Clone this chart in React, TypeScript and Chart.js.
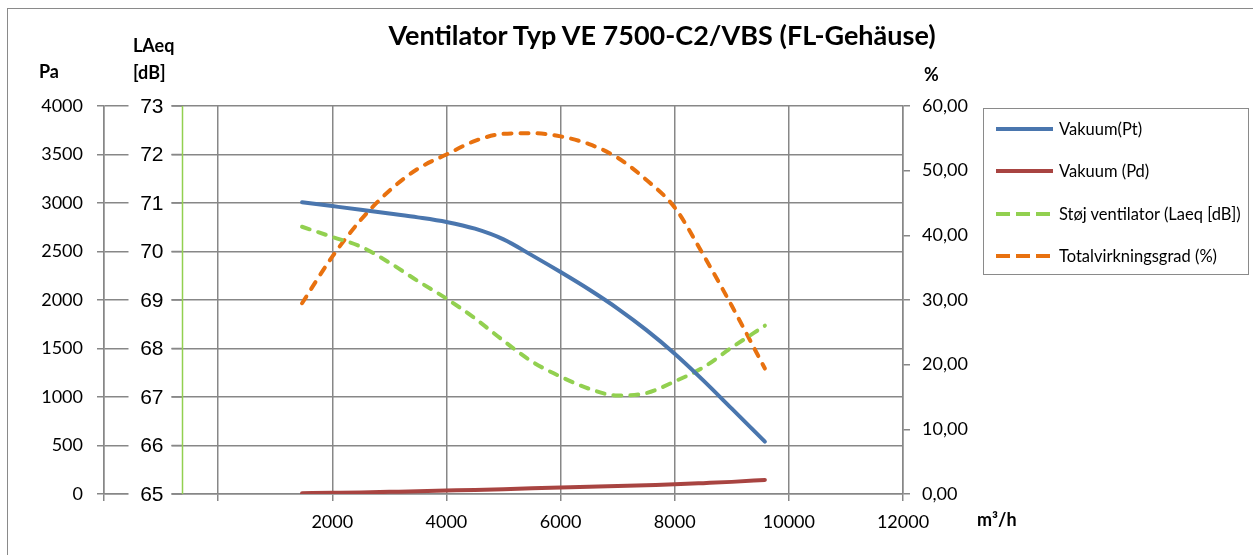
import React, { useEffect, useRef } from "react";
import { Chart, registerables } from "chart.js";

Chart.register(...registerables);

// ---------- data ----------
const flows = [1470, 2000, 2500, 3000, 3500, 4000, 4500, 5000, 5500, 6000, 6500, 7000, 7500, 8000, 8500, 9000, 9580];
const vakuumPt = [3008, 2968, 2930, 2891, 2852, 2805, 2735, 2625, 2460, 2288, 2108, 1912, 1692, 1447, 1172, 880, 540];
const vakuumPd = [8, 12, 16, 22, 28, 35, 42, 50, 58, 66, 74, 82, 91, 100, 112, 125, 145];
const stojLaeq = [70.51, 70.3, 70.1, 69.77, 69.39, 69.03, 68.62, 68.16, 67.73, 67.42, 67.17, 67.03, 67.08, 67.32, 67.61, 68.02, 68.47];
const virkningsgrad = [29.5, 36.7, 42.4, 46.9, 50.3, 52.5, 54.6, 55.7, 55.8, 55.3, 54.1, 52.0, 48.6, 44.3, 37.0, 29.1, 19.4];

const seriesLabels = [
  "Vakuum(Pt)",
  "Vakuum (Pd)",
  "Støj ventilator (Laeq [dB])",
  "Totalvirkningsgrad (%)",
];
const laeqTicks = [65, 66, 67, 68, 69, 70, 71, 72, 73];

const TITLE = "Ventilator Typ VE 7500-C2/VBS (FL-Gehäuse)";

// ---------- styles ----------
const COLORS = ["#4A76AE", "#A84441", "#92D050", "#E8710F"];
const DASHED = [false, false, true, true];
const GRID = "#878787";
const LAEQ_AXIS_AT = -630; // x-value where the LAeq axis line sits

const pts = (ys: number[]) => flows.map((x, i) => ({ x, y: ys[i] }));

export default function App() {
  const ref = useRef<HTMLCanvasElement>(null);

  useEffect(() => {
    if (!ref.current) return;

    const laeqAxisPlugin = {
      id: "laeqAxis",
      afterDraw(chart: any) {
        const s = chart.scales.yL;
        const xs = chart.scales.x;
        const c = chart.ctx as CanvasRenderingContext2D;
        const ax = Math.round(xs.getPixelForValue(LAEQ_AXIS_AT)) + 0.5;
        c.save();
        c.font = '21px "Liberation Sans"';
        c.textAlign = "right";
        c.textBaseline = "middle";
        laeqTicks.forEach((v) => {
          const y = s.getPixelForValue(v);
          c.fillStyle = "#ffffff";
          c.fillRect(ax - 54, y - 11, 43, 22);
          c.strokeStyle = GRID;
          c.lineWidth = 1.5;
          c.beginPath();
          c.moveTo(ax - 11, y);
          c.lineTo(ax, y);
          c.stroke();
          c.fillStyle = "#000000";
          c.fillText(String(v), ax - 19, y + 1);
        });
        c.strokeStyle = "#92D050";
        c.lineWidth = 1.5;
        c.beginPath();
        c.moveTo(ax, s.top);
        c.lineTo(ax, s.bottom);
        c.stroke();
        c.restore();
      },
    };

    const seriesData = [vakuumPt, vakuumPd, stojLaeq, virkningsgrad];
    const axisIds = ["y", "y", "yL", "yP"];

    const chart = new Chart(ref.current, {
      type: "line",
      data: {
        datasets: seriesData.map((d, i) => ({
          label: seriesLabels[i],
          data: pts(d),
          yAxisID: axisIds[i],
          borderColor: COLORS[i],
          backgroundColor: COLORS[i],
          borderWidth: 4,
          borderDash: DASHED[i] ? [8, 9] : [],
          borderCapStyle: "round",
          pointRadius: 0,
          fill: false,
          cubicInterpolationMode: "monotone",
        })),
      },
      options: {
        animation: false,
        responsive: false,
        layout: { padding: { top: 106, left: 0, right: 0, bottom: 0 } },
        plugins: {
          legend: { display: false },
          tooltip: { enabled: false },
          title: { display: false },
        },
        scales: {
          x: {
            type: "linear",
            position: "bottom",
            min: -2000,
            max: 12000,
            afterFit: (s: any) => {
              s.height = 61;
            },
            ticks: {
              stepSize: 2000,
              autoSkip: false,
              maxRotation: 0,
              padding: 10,
              color: "#000",
              font: { family: "Lato", size: 18 },
              callback: (v: any) => (Number(v) > 0 ? String(v) : ""),
            },
            grid: { color: GRID, lineWidth: 1.5, tickLength: 7, tickColor: GRID },
            border: { color: GRID, width: 1.5 },
          },
          y: {
            type: "linear",
            position: "left",
            min: 0,
            max: 4000,
            afterFit: (s: any) => {
              s.width = 104;
            },
            ticks: {
              stepSize: 500,
              padding: 14,
              color: "#000",
              font: { family: "Lato", size: 18 },
              callback: (v: any) => String(v),
            },
            grid: { color: GRID, lineWidth: 1.5, tickLength: 7, tickColor: GRID },
            border: { color: GRID, width: 1.5 },
          },
          yL: {
            type: "linear",
            position: "left",
            display: false,
            min: 65,
            max: 73,
          },
          yP: {
            type: "linear",
            position: "right",
            min: 0,
            max: 60,
            afterFit: (s: any) => {
              s.width = 350;
            },
            ticks: {
              stepSize: 10,
              padding: 12,
              color: "#000",
              font: { family: "Lato", size: 18 },
              callback: (v: any) => Number(v).toFixed(2).replace(".", ","),
            },
            grid: {
              drawOnChartArea: false,
              color: GRID,
              lineWidth: 1.5,
              tickLength: 7,
              tickColor: GRID,
            },
            border: { color: GRID, width: 1.5 },
          },
        },
      } as any,
      plugins: [laeqAxisPlugin],
    });

    return () => chart.destroy();
  }, []);

  const bold: React.CSSProperties = {
    position: "absolute",
    fontFamily: "Lato",
    fontWeight: 700,
    fontSize: 18,
    lineHeight: "20px",
    color: "#000",
    whiteSpace: "nowrap",
  };

  return (
    <div
      style={{
        position: "fixed",
        left: 0,
        top: 0,
        width: 1253,
        height: 555,
        background: "#fff",
        overflow: "hidden",
      }}
    >
      <canvas
        ref={ref}
        width={1253}
        height={555}
        style={{ position: "absolute", left: 0, top: 0 }}
      />
      <div
        style={{
          position: "absolute",
          left: 7,
          top: 8,
          width: 1400,
          height: 700,
          borderLeft: "1.5px solid #8a8a8a",
          borderTop: "1.5px solid #8a8a8a",
          pointerEvents: "none",
        }}
      />
      <div
        style={{
          ...bold,
          fontSize: 27,
          lineHeight: "30px",
          left: 662,
          top: 20,
          transform: "translateX(-50%)",
        }}
      >
        {TITLE}
      </div>
      <div style={{ ...bold, left: 39, top: 61 }}>Pa</div>
      <div style={{ ...bold, left: 133, top: 35 }}>LAeq</div>
      <div style={{ ...bold, left: 133, top: 62 }}>[dB]</div>
      <div style={{ ...bold, left: 924, top: 64 }}>%</div>
      <div style={{ ...bold, left: 977, top: 509 }}>m³/h</div>

      <div
        style={{
          position: "absolute",
          left: 983,
          top: 108,
          width: 266,
          height: 167,
          border: "1.5px solid #8a8a8a",
          boxSizing: "border-box",
          background: "#fff",
        }}
      >
        {seriesLabels.map((lab, i) => (
          <div
            key={lab}
            style={{
              position: "absolute",
              left: 12,
              top: 20 + i * 42.3 - 10,
              height: 20,
              display: "flex",
              alignItems: "center",
              whiteSpace: "nowrap",
            }}
          >
            <svg width={57} height={8} style={{ display: "block" }}>
              <line
                x1={0}
                y1={4}
                x2={57}
                y2={4}
                stroke={COLORS[i]}
                strokeWidth={4}
                strokeLinecap={DASHED[i] ? "butt" : "round"}
                strokeDasharray={DASHED[i] ? "14 6" : undefined}
              />
            </svg>
            <span
              style={{
                marginLeft: 6,
                fontFamily: "Lato",
                fontSize: 16.5,
                color: "#000",
              }}
            >
              {lab}
            </span>
          </div>
        ))}
      </div>
    </div>
  );
}
